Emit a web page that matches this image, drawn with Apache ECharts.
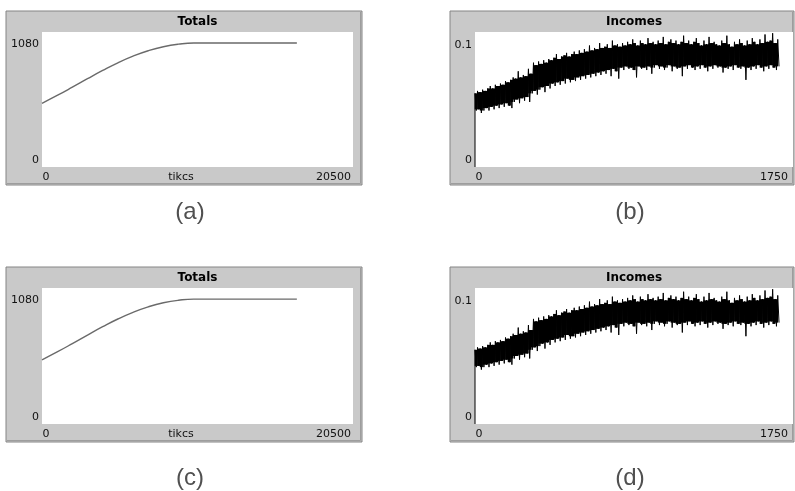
<!DOCTYPE html>
<html>
<head>
<meta charset="utf-8">
<script src="https://cdn.jsdelivr.net/npm/echarts@6/dist/echarts.min.js"></script>
<style>
  html, body { margin: 0; padding: 0; background: #ffffff; }
  #c { width: 795px; height: 491px; }
</style>
</head>
<body>
<div id="c"></div>
<script>
// Totals plot: aggregate quantity against ticks
const totalsTicks  = [0, 1000, 2000, 3000, 4000, 5000, 6000, 7000, 8000, 9000, 10000, 16800];
const totalsValues = [555, 623, 695, 769, 841, 908, 966, 1013, 1048, 1070, 1080, 1080];

// Incomes plot: per-tick income swings between a high and a low reading
const incomeStep = 14;
const incomeHigh = [
  0.060, 0.062, 0.061, 0.063, 0.062, 0.064, 0.066, 0.064, 0.067, 0.066,
  0.068, 0.067, 0.070, 0.069, 0.071, 0.073, 0.072, 0.078, 0.073, 0.075,
  0.074, 0.080, 0.076, 0.085, 0.083, 0.086, 0.084, 0.087, 0.085, 0.088,
  0.087, 0.089, 0.092, 0.088, 0.090, 0.091, 0.093, 0.090, 0.092, 0.094,
  0.092, 0.095, 0.093, 0.096, 0.094, 0.099, 0.095, 0.097, 0.096, 0.101,
  0.097, 0.098, 0.100, 0.097, 0.103, 0.099, 0.100, 0.098, 0.101, 0.099,
  0.102, 0.100, 0.104, 0.101, 0.099, 0.103, 0.101, 0.100, 0.105, 0.101,
  0.102, 0.100, 0.103, 0.101, 0.106, 0.100, 0.102, 0.104, 0.101, 0.103,
  0.100, 0.102, 0.107, 0.101, 0.103, 0.100, 0.102, 0.105, 0.101, 0.099,
  0.103, 0.100, 0.106, 0.101, 0.102, 0.100, 0.099, 0.103, 0.101, 0.107,
  0.100, 0.098, 0.102, 0.100, 0.104, 0.101, 0.099, 0.103, 0.100, 0.105,
  0.102, 0.100, 0.104, 0.101, 0.108, 0.102, 0.103, 0.109, 0.101, 0.104
];
const incomeLow = [
  0.046, 0.047, 0.044, 0.046, 0.048, 0.046, 0.049, 0.047, 0.050, 0.048,
  0.051, 0.049, 0.052, 0.050, 0.048, 0.053, 0.055, 0.052, 0.056, 0.054,
  0.057, 0.053, 0.060, 0.062, 0.059, 0.063, 0.065, 0.061, 0.066, 0.064,
  0.068, 0.066, 0.069, 0.067, 0.070, 0.068, 0.072, 0.069, 0.071, 0.070,
  0.073, 0.071, 0.074, 0.072, 0.075, 0.073, 0.076, 0.074, 0.077, 0.075,
  0.078, 0.076, 0.079, 0.074, 0.080, 0.078, 0.072, 0.081, 0.079, 0.082,
  0.080, 0.081, 0.079, 0.073, 0.082, 0.080, 0.081, 0.079, 0.082, 0.076,
  0.081, 0.083, 0.080, 0.082, 0.079, 0.081, 0.083, 0.078, 0.082, 0.080,
  0.081, 0.074, 0.082, 0.080, 0.083, 0.081, 0.079, 0.082, 0.080, 0.083,
  0.081, 0.078, 0.082, 0.080, 0.083, 0.081, 0.082, 0.077, 0.081, 0.080,
  0.082, 0.079, 0.083, 0.081, 0.080, 0.082, 0.071, 0.081, 0.079, 0.082,
  0.080, 0.083, 0.081, 0.078, 0.082, 0.080, 0.083, 0.081, 0.079, 0.082
];

// Axis ranges and tick labels
const totalsXRange = [0, 20500];
const totalsYRange = [0, 1176];
const totalsYLabels = [0, 1080];
const totalsXLabels = ['0', '20500'];
const totalsXName = 'tikcs';
const incomeXRange = [0, 1750];
const incomeYRange = [0, 0.11];
const incomeYLabels = [0, 0.1];
const incomeXLabels = ['0', '1750'];

const panelTitles = ['Totals', 'Incomes', 'Totals', 'Incomes'];
const captions = ['(a)', '(b)', '(c)', '(d)'];

const totalsData = totalsTicks.map((t, i) => [t, totalsValues[i]]);

// Zigzag trace: starts from zero, then alternates high / low readings
const incomeData = [[0, 0]];
incomeHigh.forEach((h, i) => {
  incomeData.push([i * incomeStep, h]);
  incomeData.push([i * incomeStep + incomeStep / 2, incomeLow[i]]);
});
// Solid core of the trace: range shared by neighbouring readings
const incomeCore = [];
for (let i = 0; i < incomeHigh.length - 1; i++) {
  incomeCore.push([
    i * incomeStep + incomeStep / 2,
    Math.max(incomeLow[i], incomeLow[i + 1]),
    Math.min(incomeHigh[i], incomeHigh[i + 1])
  ]);
}

const grids = [
  { left: 42,  top: 32,  width: 311, height: 135 },
  { left: 475, top: 32,  width: 318, height: 135 },
  { left: 42,  top: 288, width: 311, height: 136 },
  { left: 475, top: 288, width: 318, height: 136 }
];
const frames = [
  { x: 6,   y: 11,  w: 356, h: 174 },
  { x: 450, y: 11,  w: 344, h: 174 },
  { x: 6,   y: 267, w: 356, h: 175 },
  { x: 450, y: 267, w: 344, h: 175 }
];
const captionPos = [[190, 212], [630, 212], [190, 478], [630, 478]];
const isTotals = [true, false, true, false];

const hiddenAxis = {
  axisLine: { show: false }, axisTick: { show: false },
  axisLabel: { show: false }, splitLine: { show: false }
};

const chart = echarts.init(document.getElementById('c'), null, { renderer: 'canvas' });

const series = [];
grids.forEach((g, k) => {
  if (isTotals[k]) {
    series.push({
      type: 'line', xAxisIndex: k, yAxisIndex: k, data: totalsData,
      showSymbol: false, silent: true, smooth: 0.5,
      lineStyle: { color: '#6a6a6a', width: 1.4 }
    });
  } else {
    series.push({
      type: 'custom', xAxisIndex: k, yAxisIndex: k, data: incomeCore, silent: true,
      renderItem: function (params, api) {
        const top = api.coord([api.value(0), api.value(2)]);
        const bot = api.coord([api.value(0), api.value(1)]);
        const w = api.size([incomeStep, 0])[0];
        return {
          type: 'rect',
          shape: { x: top[0] - w / 2 - 0.3, y: top[1], width: w + 0.6, height: bot[1] - top[1] },
          style: { fill: '#000000' }
        };
      }
    });
    series.push({
      type: 'line', xAxisIndex: k, yAxisIndex: k, data: incomeData,
      showSymbol: false, silent: true,
      lineStyle: { color: '#000000', width: 1 }
    });
  }
});

chart.setOption({
  animation: false,
  backgroundColor: '#ffffff',
  grid: grids.map(g => Object.assign({ show: true, backgroundColor: '#ffffff', borderWidth: 0, containLabel: false }, g)),
  xAxis: grids.map((g, k) => Object.assign({
    type: 'value', gridIndex: k,
    min: isTotals[k] ? totalsXRange[0] : incomeXRange[0],
    max: isTotals[k] ? totalsXRange[1] : incomeXRange[1]
  }, hiddenAxis)),
  yAxis: grids.map((g, k) => Object.assign({
    type: 'value', gridIndex: k,
    min: isTotals[k] ? totalsYRange[0] : incomeYRange[0],
    max: isTotals[k] ? totalsYRange[1] : incomeYRange[1]
  }, hiddenAxis)),
  series: series
});

// Frames, titles and labels placed with the axes' own pixel mapping
const font = 'DejaVu Sans, Verdana, sans-serif';
const elements = [];
grids.forEach((g, k) => {
  const f = frames[k];
  elements.push({
    type: 'rect', z: -10,
    shape: { x: f.x, y: f.y, width: f.w, height: f.h },
    style: { fill: '#c9c9c9', stroke: '#858585', lineWidth: 1 }
  });
  elements.push({
    type: 'polyline', z: -9,
    shape: { points: [[f.x + f.w - 1.5, f.y + 1], [f.x + f.w - 1.5, f.y + f.h - 1.5], [f.x + 1, f.y + f.h - 1.5]] },
    style: { stroke: '#9d9d9d', lineWidth: 1, fill: null }
  });
  const finder = { gridIndex: k };
  const yLabels = isTotals[k] ? totalsYLabels : incomeYLabels;
  const xLabels = isTotals[k] ? totalsXLabels : incomeXLabels;
  const xRange = isTotals[k] ? totalsXRange : incomeXRange;
  const left = g.left, bottom = g.top + g.height;

  elements.push({
    type: 'text', z: 10,
    style: { text: panelTitles[k], x: left + g.width / 2, y: g.top - 10, align: 'center', verticalAlign: 'middle',
             font: 'bold 12px ' + font, fill: '#000000' }
  });
  const yTop = chart.convertToPixel(finder, [xRange[0], yLabels[1]])[1];
  elements.push({
    type: 'text', z: 10,
    style: { text: String(yLabels[1]), x: left - 3, y: yTop + 1, align: 'right', verticalAlign: 'middle',
             font: '11px ' + font, fill: '#111111' }
  });
  const yBot = chart.convertToPixel(finder, [xRange[0], yLabels[0]])[1];
  elements.push({
    type: 'text', z: 10,
    style: { text: String(yLabels[0]), x: left - 3, y: yBot - 7, align: 'right', verticalAlign: 'middle',
             font: '11px ' + font, fill: '#111111' }
  });
  const x0 = chart.convertToPixel(finder, [xRange[0], 0])[0];
  const x1 = chart.convertToPixel(finder, [xRange[1], 0])[0];
  elements.push({
    type: 'text', z: 10,
    style: { text: xLabels[0], x: x0 + 0.5, y: bottom + 10, align: 'left', verticalAlign: 'middle',
             font: '11px ' + font, fill: '#111111' }
  });
  elements.push({
    type: 'text', z: 10,
    style: { text: xLabels[1], x: x1 - (isTotals[k] ? 2 : 5), y: bottom + 10, align: 'right', verticalAlign: 'middle',
             font: '11px ' + font, fill: '#111111' }
  });
  if (isTotals[k]) {
    elements.push({
      type: 'text', z: 10,
      style: { text: totalsXName, x: (x0 + 6 + x1 - 39) / 2, y: bottom + 10, align: 'center', verticalAlign: 'middle',
               font: '11px ' + font, fill: '#111111' }
    });
  }
  elements.push({
    type: 'text', z: 10,
    style: { text: captions[k], x: captionPos[k][0], y: captionPos[k][1], align: 'center', verticalAlign: 'middle',
             font: '24px Liberation Sans, Arial, sans-serif', fill: '#505050' }
  });
});
chart.setOption({ graphic: elements });
</script>
</body>
</html>
